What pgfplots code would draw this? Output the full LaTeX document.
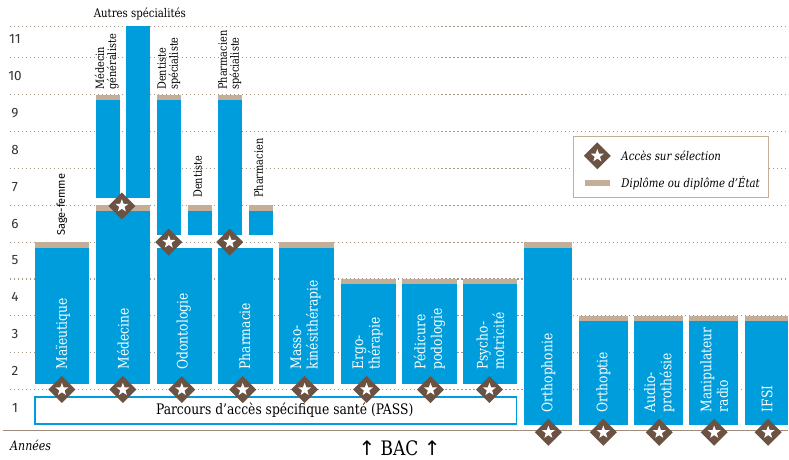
\documentclass[border=0pt]{standalone}
\usepackage{fontspec}
\setmainfont{DejaVu Serif}[FakeStretch=0.85]
\newfontfamily\numfont{Fira Sans}
\newfontfamily\symfont{DejaVu Sans}
\usepackage{pgfplots}
\pgfplotsset{compat=1.18}

\definecolor{bleu}{HTML}{009DDC}
\definecolor{beige}{HTML}{C4AE98}
\definecolor{brun}{HTML}{6B5243}
\definecolor{grille}{HTML}{A89888}
\definecolor{trait}{HTML}{9E8C7C}

% losange brun avec etoile blanche : acces sur selection
\pgfdeclareplotmark{selection}{%
  \pgfpathmoveto{\pgfqpoint{0pt}{13.5pt}}%
  \pgfpathlineto{\pgfqpoint{13.5pt}{0pt}}%
  \pgfpathlineto{\pgfqpoint{0pt}{-13.5pt}}%
  \pgfpathlineto{\pgfqpoint{-13.5pt}{0pt}}%
  \pgfpathclose
  \pgfsetfillcolor{brun}\pgfusepathqfill
  \pgfpathmoveto{\pgfpointpolar{90}{6.8pt}}%
  \pgfpathlineto{\pgfpointpolar{126}{2.8pt}}%
  \pgfpathlineto{\pgfpointpolar{162}{6.8pt}}%
  \pgfpathlineto{\pgfpointpolar{198}{2.8pt}}%
  \pgfpathlineto{\pgfpointpolar{234}{6.8pt}}%
  \pgfpathlineto{\pgfpointpolar{270}{2.8pt}}%
  \pgfpathlineto{\pgfpointpolar{306}{6.8pt}}%
  \pgfpathlineto{\pgfpointpolar{342}{2.8pt}}%
  \pgfpathlineto{\pgfpointpolar{18}{6.8pt}}%
  \pgfpathlineto{\pgfpointpolar{54}{2.8pt}}%
  \pgfpathclose
  \pgfsetfillcolor{white}\pgfusepathqfill}

% bloc : couleur, x gauche, x droite, annee debut, annee fin
\newcommand{\bloc}[5]{%
  \addplot[fill=#1, draw=none, forget plot] coordinates {(#2,#4) (#3,#4) (#3,#5) (#2,#5)} -- cycle;}

\newcommand{\lab}{\fontsize{14.5}{16.5}\selectfont}
\newcommand{\petit}{\fontsize{11.5}{12}\selectfont}

\begin{document}
\begin{tikzpicture}
\begin{axis}[
    scale only axis,
    width=789pt, height=458pt,
    xmin=0, xmax=789,
    ymin=-0.843, ymax=11.569,
    axis lines=none,
    clip=false,
]
\path (rel axis cs:0,0) rectangle (rel axis cs:1,1);

% lignes pointillees des annees
\pgfplotsinvokeforeach{1,2,3,4,5,6,7,8,9,10,10.86}{
  \draw[grille, line width=1.1pt, dash pattern=on 1.1pt off 2.9pt] (axis cs:10,#1) -- (axis cs:789,#1);
}
\draw[trait, line width=1.8pt] (axis cs:3,-0.11) -- (axis cs:789,-0.11);

% PASS
\draw[bleu, line width=1.8pt, fill=white] (axis cs:35,0.07) rectangle (axis cs:517,0.80);

% etudes longues
\bloc{bleu}{35}{89}{1.15}{4.85}   \bloc{beige}{35}{89}{4.85}{5.0}
\bloc{bleu}{96}{150}{1.15}{5.85}  \bloc{beige}{96}{150}{5.85}{6.0}
\bloc{bleu}{96}{120}{6.2}{8.85}   \bloc{beige}{96}{120}{8.85}{9.0}
\bloc{bleu}{126}{150}{6.2}{10.86}
\bloc{bleu}{157}{212}{1.15}{4.85}
\bloc{bleu}{157}{181}{5.2}{8.85}  \bloc{beige}{157}{181}{8.85}{9.0}
\bloc{bleu}{188}{212}{5.2}{5.85}  \bloc{beige}{188}{212}{5.85}{6.0}
\bloc{bleu}{218}{273}{1.15}{4.85}
\bloc{bleu}{218}{242}{5.2}{8.85}  \bloc{beige}{218}{242}{8.85}{9.0}
\bloc{bleu}{249}{273}{5.2}{5.85}  \bloc{beige}{249}{273}{5.85}{6.0}
\bloc{bleu}{279}{334}{1.15}{4.85} \bloc{beige}{279}{334}{4.85}{5.0}
\bloc{bleu}{341}{396}{1.15}{3.85} \bloc{beige}{341}{396}{3.85}{4.0}
\bloc{bleu}{402}{458}{1.15}{3.85} \bloc{beige}{402}{458}{3.85}{4.0}
\bloc{bleu}{464}{518}{1.15}{3.85} \bloc{beige}{464}{518}{3.85}{4.0}
% acces direct apres le bac
\bloc{bleu}{525}{573}{0.05}{4.85} \bloc{beige}{525}{573}{4.85}{5.0}
\bloc{bleu}{580}{629}{0.05}{2.85} \bloc{beige}{580}{629}{2.85}{3.0}
\bloc{bleu}{635}{684}{0.05}{2.85} \bloc{beige}{635}{684}{2.85}{3.0}
\bloc{bleu}{690}{739}{0.05}{2.85} \bloc{beige}{690}{739}{2.85}{3.0}
\bloc{bleu}{746}{789}{0.05}{2.85} \bloc{beige}{746}{789}{2.85}{3.0}

% acces sur selection
\addplot[only marks, mark=selection, forget plot] coordinates {
  (62,1) (123,1) (182,1) (243,1) (305,1) (367,1) (431,1) (490,1)
  (122,5.98) (169,5.0) (230,5.0)
  (549,-0.16) (604,-0.16) (660,-0.16) (715,-0.16) (769,-0.16)
};

% annees
\begin{scope}[every node/.style={font=\numfont\fontsize{13.5}{14}\selectfont, text=black!80}]
\node at (axis cs:15,0.5) {1};
\node at (axis cs:15,1.5) {2};
\node at (axis cs:15,2.5) {3};
\node at (axis cs:15,3.5) {4};
\node at (axis cs:15,4.5) {5};
\node at (axis cs:15,5.5) {6};
\node at (axis cs:15,6.5) {7};
\node at (axis cs:15,7.5) {8};
\node at (axis cs:15,8.5) {9};
\node at (axis cs:15,9.5) {10};
\node at (axis cs:15,10.5) {11};
\end{scope}

% noms des filieres
\begin{scope}[every node/.style={rotate=90, anchor=west, inner sep=0pt, text=white, align=left, font=\lab}]
\node at (axis cs:63,1.54) {Maïeutique};
\node at (axis cs:123,1.54) {Médecine};
\node at (axis cs:184,1.54) {Odontologie};
\node at (axis cs:245,1.54) {Pharmacie};
\node at (axis cs:306,1.54) {Masso-\\kinésithérapie};
\node at (axis cs:368,1.54) {Ergo-\\thérapie};
\node at (axis cs:430,1.54) {Pédicure\\podologie};
\node at (axis cs:491,1.54) {Psycho-\\motricité};
\node at (axis cs:549,0.38) {Orthophonie};
\node at (axis cs:604,0.38) {Orthoptie};
\node at (axis cs:660,0.38) {Audio-\\prothésie};
\node at (axis cs:715,0.38) {Manipulateur\\radio};
\node at (axis cs:768,0.38) {IFSI};
\end{scope}

% diplomes au-dessus des colonnes
\begin{scope}[every node/.style={rotate=90, anchor=west, inner sep=0pt, text=black, align=left, font=\petit}]
\node at (axis cs:107,9.13) {Médecin\\généraliste};
\node at (axis cs:169,9.13) {Dentiste\\spécialiste};
\node at (axis cs:230,9.13) {Pharmacien\\spécialiste};
\node at (axis cs:198,6.2) {Dentiste};
\node at (axis cs:259,6.2) {Pharmacien};
\node[font=\numfont\fontsize{11}{12}\selectfont] at (axis cs:62,5.17) {Sage-femme};
\end{scope}
\node[font=\fontsize{12}{13}\selectfont] at (axis cs:140,11.19) {Autres spécialités};

\node[font=\fontsize{14.5}{16}\selectfont] at (axis cs:285,0.43) {Parcours d’accès spécifique santé (PASS)};
\node[anchor=west, inner sep=0pt, font=\itshape\fontsize{13}{14}\selectfont] at (axis cs:10,-0.52) {Années};
\node[font=\fontsize{20}{21}\selectfont] at (axis cs:400,-0.60) {{\symfont ↑} BAC {\symfont ↑}};

% legende
\draw[beige, line width=1pt, fill=white] (axis cs:574,7.856) rectangle (axis cs:769,6.203);
\addplot[only marks, mark=selection, forget plot] coordinates {(598,7.341)};
\fill[beige] (axis cs:586,6.691) rectangle (axis cs:611,6.528);
\node[anchor=west, inner sep=0pt, font=\itshape\fontsize{12}{13}\selectfont] at (axis cs:622,7.341) {Accès sur sélection};
\node[anchor=west, inner sep=0pt, font=\itshape\fontsize{12}{13}\selectfont] at (axis cs:622,6.61) {Diplôme ou diplôme d’État};
\end{axis}
\end{tikzpicture}
\end{document}
